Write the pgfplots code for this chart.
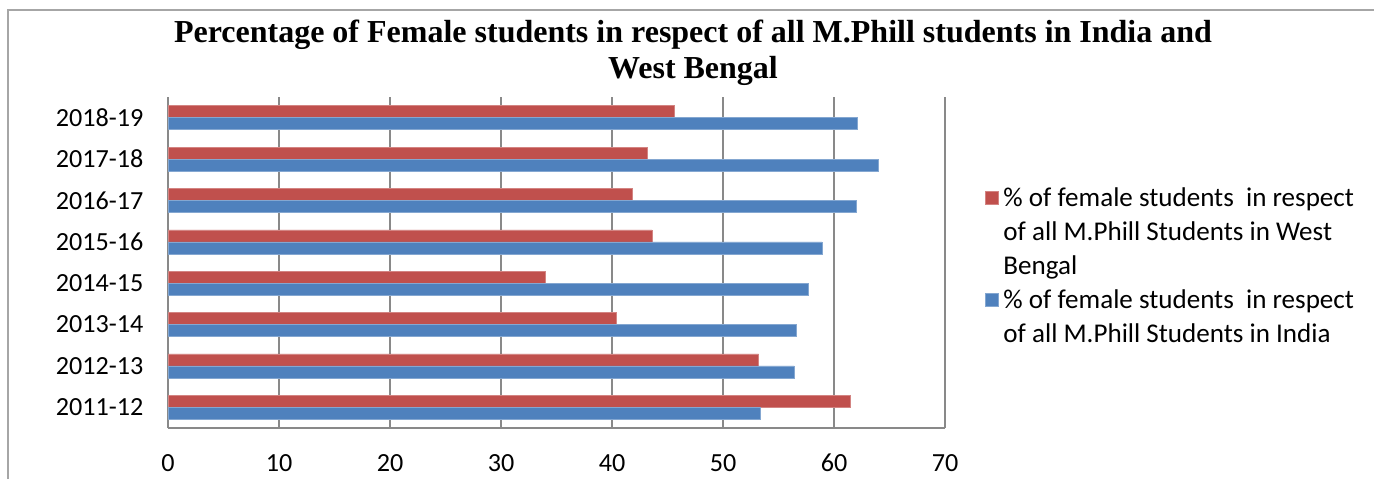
\documentclass[border=0pt]{standalone}
\usepackage{pgfplots}
\pgfplotsset{compat=1.18}
\usepackage{fontspec}
\setmainfont{Carlito}
\newfontfamily\titlefont{Liberation Serif}
\definecolor{exred}{HTML}{C0504D}
\definecolor{exblue}{HTML}{4F81BD}
\definecolor{gridgray}{HTML}{898989}
\begin{document}
\begin{tikzpicture}[x=0.75pt,y=0.75pt]
\path[use as bounding box] (0,0) rectangle (1374,479);
\draw[gray!70, line width=1.2pt] (8,0) -- (8,469) -- (1374,469);
\begin{axis}[
  at={(126pt,38.25pt)}, anchor=south west,
  scale only axis, width=582.75pt, height=248.25pt,
  xmin=0, xmax=70, ymin=-0.5, ymax=7.5,
  xtick={0,10,...,70},
  ytick={0,...,7},
  yticklabels={2011-12,2012-13,2013-14,2014-15,2015-16,2016-17,2017-18,2018-19},
  xmajorgrids, grid style={gridgray, line width=1pt},
  axis x line*=bottom, axis y line*=left,
  axis line style={-, gridgray, line width=1pt},
  major tick length=0pt,
  xbar, bar width=9pt,
  tick label style={font=\fontsize{19.6}{23}\selectfont},
  /pgf/number format/assume math mode=true,
  xticklabel style={yshift=-16pt},
  yticklabel style={xshift=-15pt},
  legend style={at={(1.0515,0.731)}, anchor=north west, draw=none, fill=none,
    inner sep=0pt, font=\fontsize{20.3}{24}\selectfont,
    nodes={inner ysep=0pt, inner xsep=3.5pt, text height=15pt, text depth=10.5pt},
    cells={anchor=west}, row sep=0pt},
  legend cell align=left,
  legend image code/.code={\fill[#1] (0,-0.9pt) rectangle (9.75pt,9.1pt);},
]
\addplot[fill=exred, draw=exred!70!white, bar shift=4.5pt] coordinates {
 (61.5,0) (53.2,1) (40.4,2) (34.0,3) (43.6,4) (41.8,5) (43.2,6) (45.6,7)};
\addlegendentry{\% of female students\hspace{0.45em}in respect}
\addlegendimage{empty legend}
\addlegendentry{of all M.Phill Students in West}
\addlegendimage{empty legend}
\addlegendentry{Bengal}
\addplot[fill=exblue, draw=exblue!70!white, bar shift=-4.5pt] coordinates {
 (53.4,0) (56.4,1) (56.6,2) (57.7,3) (58.9,4) (62.0,5) (64.0,6) (62.1,7)};
\addlegendentry{\% of female students\hspace{0.45em}in respect}
\addlegendimage{empty legend}
\addlegendentry{of all M.Phill Students in India}
\end{axis}
\node[font=\titlefont\bfseries\fontsize{24}{27}\selectfont, align=center] at (693,426)
 {Percentage of Female students in respect of all M.Phill students in India and\\West Bengal};
\end{tikzpicture}
\end{document}
